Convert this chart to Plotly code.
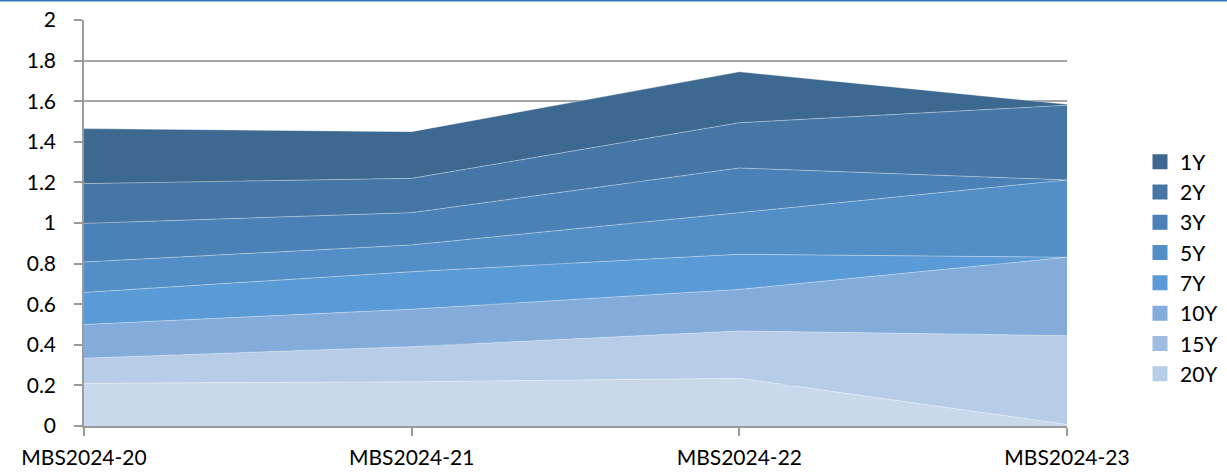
import plotly.graph_objects as go

categories = ["MBS2024-20", "MBS2024-21", "MBS2024-22", "MBS2024-23"]
series_names = ["20Y", "15Y", "10Y", "7Y", "5Y", "3Y", "2Y", "1Y"]
v_20Y = [0.210, 0.218, 0.235, 0.008]
v_15Y = [0.124, 0.173, 0.233, 0.437]
v_10Y = [0.166, 0.184, 0.205, 0.386]
v_7Y = [0.158, 0.185, 0.173, 0.000]
v_5Y = [0.150, 0.132, 0.205, 0.381]
v_3Y = [0.190, 0.159, 0.220, 0.000]
v_2Y = [0.196, 0.169, 0.223, 0.368]
v_1Y = [0.271, 0.230, 0.251, 0.005]
values = [v_20Y, v_15Y, v_10Y, v_7Y, v_5Y, v_3Y, v_2Y, v_1Y]
colors = ["#c9d9ec", "#b7cce7", "#83acdb", "#5a9ad6", "#538fc6", "#4a81b6", "#4576a6", "#3d6991"]
legend_colors = ["#b8cde8", "#a0bce1", "#84acdb", "#5a9ad6", "#538fc6", "#4a81b6", "#4576a6", "#3d6991"]

font = "Lato, Open Sans, sans-serif"
fig = go.Figure()
for name, vals, col in zip(series_names, values, colors):
    fig.add_trace(go.Scatter(
        x=categories, y=vals, name=name, mode="lines",
        stackgroup="one", fillcolor=col, showlegend=False,
        line=dict(width=0.8, color="rgba(255,255,255,0.45)"),
    ))
for name, col in zip(series_names, legend_colors):
    fig.add_trace(go.Scatter(
        x=[None], y=[None], name=name, mode="markers",
        marker=dict(symbol="square", size=15, color=col), showlegend=True,
    ))

W, H = 1227, 472
ml, mr, mt, mb = 84, 160, 20, 46
pw, ph = W - ml - mr, H - mt - mb

fig.update_layout(
    width=W, height=H,
    margin=dict(l=ml, r=mr, t=mt, b=mb, autoexpand=False),
    plot_bgcolor="white", paper_bgcolor="white",
    font=dict(family=font, size=21, color="#000000"),
    showlegend=True,
    legend=dict(traceorder="reversed", x=(1140 - ml) / pw, y=(426 - 268) / ph,
                xanchor="left", yanchor="middle",
                font=dict(size=21), itemwidth=30, tracegroupgap=0),
    xaxis=dict(type="category", range=[0, 3], showgrid=False, showline=True, automargin=False,
               linecolor="#9a9a9a", linewidth=1.5, ticks="outside", ticklen=8,
               tickcolor="#9a9a9a", tickwidth=1.5, ticklabelstandoff=4,
               tickfont=dict(size=21)),
    yaxis=dict(range=[0, 2], dtick=0.2, tickformat="~g", showgrid=True, gridcolor="#a6a6a6",
               gridwidth=1.5, showline=True, linecolor="#9a9a9a", linewidth=1.5, automargin=False,
               ticks="outside", ticklen=8, tickcolor="#9a9a9a", tickwidth=1.5,
               ticklabelstandoff=14, zeroline=False),
    shapes=[dict(type="line", xref="paper", yref="paper",
                 x0=-ml / pw, x1=(W - ml) / pw,
                 y0=1 + (mt - 0.8) / ph, y1=1 + (mt - 0.8) / ph,
                 line=dict(color="#2e75b6", width=1.6))],
)

fig.write_html("out.html", config={"displayModeBar": False},
               post_script="document.body.style.margin='0';document.body.style.overflow='hidden';")
